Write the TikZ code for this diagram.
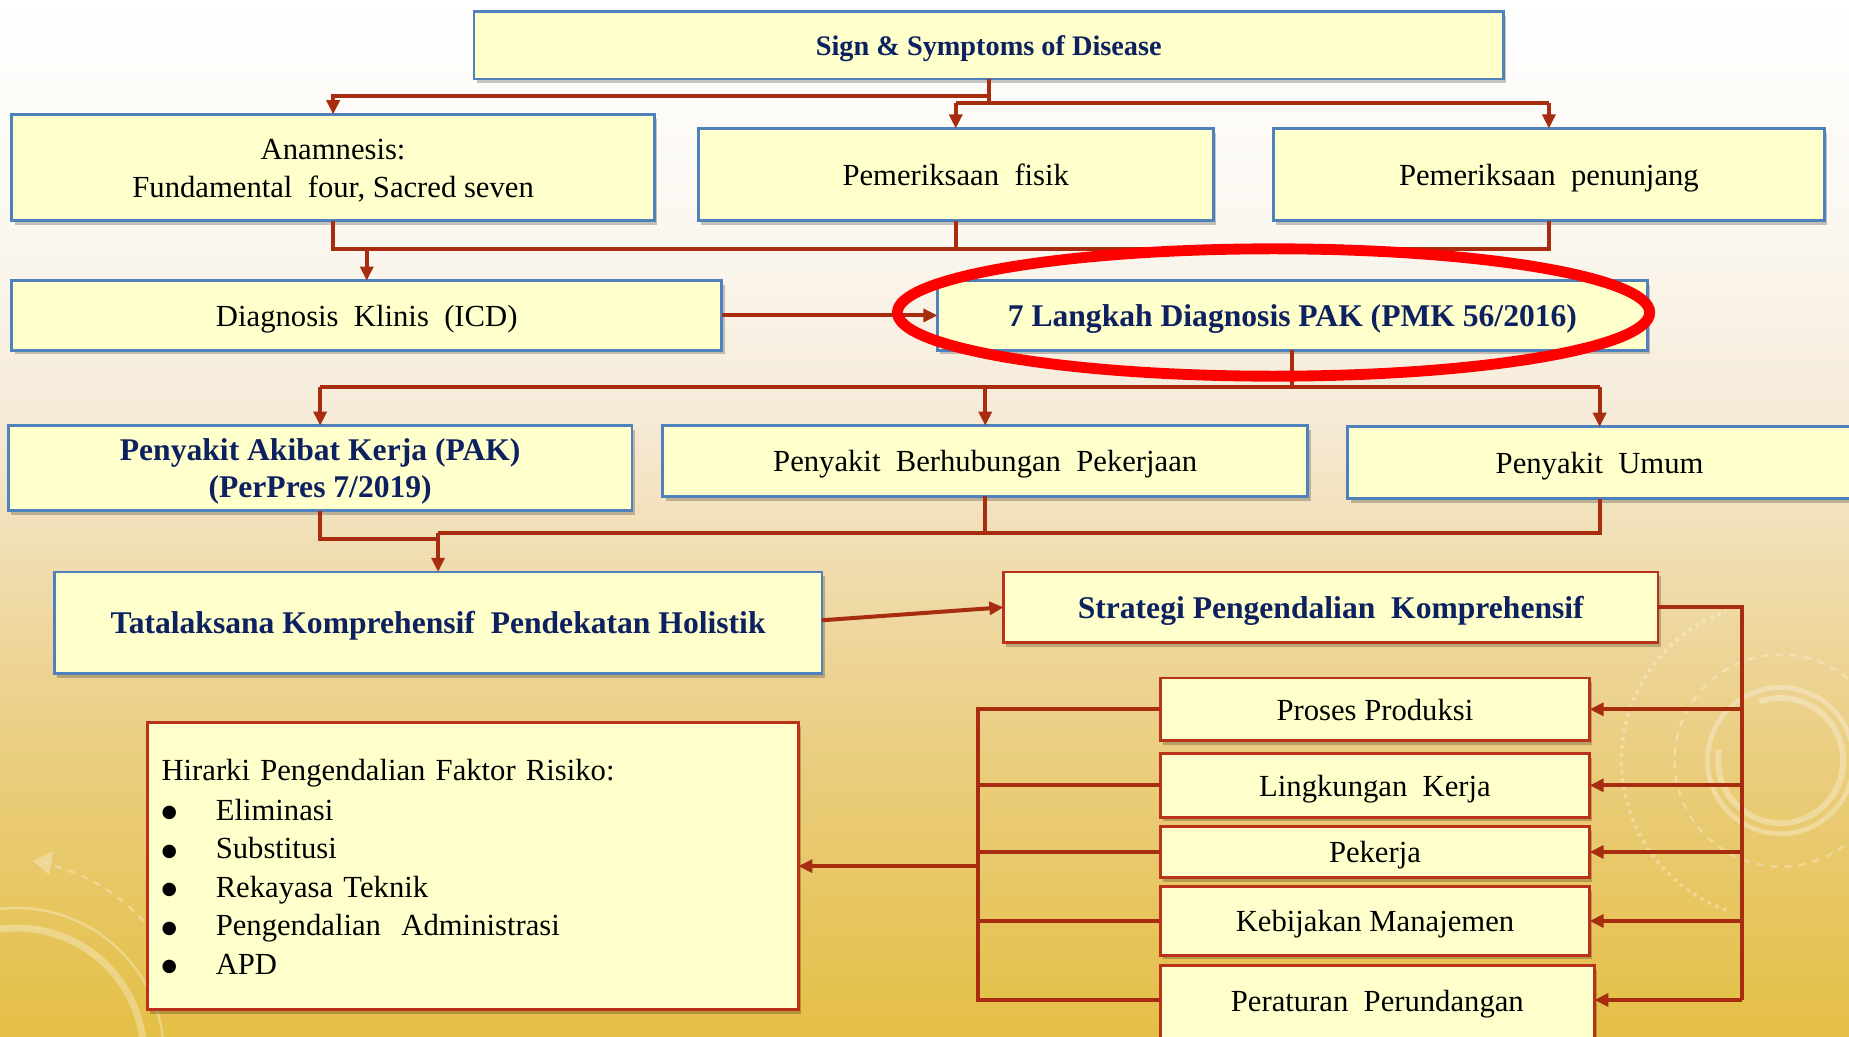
\documentclass[tikz,border=0pt]{standalone}
\usepackage{fontspec}
\setmainfont{Liberation Serif}
\newfontfamily\dejavu{DejaVu Sans}
\usetikzlibrary{arrows.meta,shadows}
\definecolor{boxfill}{HTML}{FFFFCC}
\definecolor{bblue}{HTML}{4F81BD}
\definecolor{bred}{RGB}{185,50,25}
\definecolor{lineRed}{RGB}{168,44,16}
\definecolor{navy}{RGB}{13,33,96}
\definecolor{bgA}{HTML}{FFFFFF}
\definecolor{bgB}{HTML}{FBF7F0}
\definecolor{bgC}{HTML}{F6EBD8}
\definecolor{bgD}{HTML}{F0DCAE}
\definecolor{bgE}{HTML}{EBCF85}
\definecolor{bgF}{HTML}{E4BF45}
\newcommand\bx[7]{\node[#6, minimum width={(#4-#2)*0.5pt}, minimum height={(#5-#3)*0.5pt}] (#1) at ({(#2+#4)/2},{(#3+#5)/2}) {\raisebox{-1.4pt}[\height][\depth]{\begin{tabular}{@{}c@{}}#7\end{tabular}}};}
\newcommand\dsp{\ \ }
\newcommand\bul{\makebox[23pt][l]{\raisebox{1.2pt}{\dejavu\fontsize{7.5}{7.5}\selectfont ●}}}
\begin{document}
\begin{tikzpicture}[x=0.5pt,y=-0.5pt,
  box/.style={draw=bblue, line width=1.2pt, fill=boxfill, inner sep=0pt, outer sep=0pt, align=center,
    font=\fontsize{13}{16}\selectfont,
    drop shadow={shadow xshift=1.2pt, shadow yshift=-1.8pt, fill=black, opacity=0.22}},
  rbox/.style={box, draw=bred},
  boldtxt/.style={font=\bfseries\fontsize{13.4}{16}\selectfont, text=navy},
  wire/.style={draw=lineRed, line width=1.7pt},
  arr/.style={wire, -{Triangle[length=6pt,width=5.5pt]}},
  deco/.style={draw=white, opacity=0.3}]
\useasboundingbox (0,0) rectangle (1568,879);
\begin{scope}
\clip (0,0) rectangle (1568,879);
% background
\shade[top color=bgA, bottom color=bgB] (0,-1) rectangle (1568,200);
\shade[top color=bgB, bottom color=bgC] (0,199) rectangle (1568,350);
\shade[top color=bgC, bottom color=bgD] (0,349) rectangle (1568,480);
\shade[top color=bgD, bottom color=bgE] (0,479) rectangle (1568,620);
\shade[top color=bgE, bottom color=bgF] (0,619) rectangle (1568,880);
% decorations
\draw[deco, line width=2pt] (1510,645) circle (62);
\draw[deco, line width=2.5pt] (1510,645) ++(-110:53) arc (-110:190:53);
\draw[deco, line width=1pt, dashed] (1510,645) circle (90);
\draw[deco, line width=1.5pt, dotted] (1510,645) ++(110:135) arc (110:250:135);
\draw[deco, line width=3pt] (14,895) circle (108);
\draw[deco, line width=1pt] (14,895) circle (125);
\draw[deco, line width=1pt, dashed] (130,790) .. controls (100,755) and (70,740) .. (40,733);
\fill[white, opacity=0.3] (28,730) -- (45,722) -- (42,742) -- cycle;

% boxes
\bx{sign}{402}{10}{1275}{67}{box, boldtxt, font=\bfseries\fontsize{12}{14}\selectfont}{Sign \& Symptoms of Disease}
\bx{anam}{10}{97}{555}{187}{box}{Anamnesis:\\Fundamental\dsp four, Sacred seven}
\bx{fisik}{592}{109}{1029}{187}{box}{Pemeriksaan\dsp fisik}
\bx{penunjang}{1080}{109}{1547}{187}{box}{Pemeriksaan\dsp penunjang}
\bx{diag}{10}{238}{612}{297}{box}{Diagnosis\dsp Klinis\dsp (ICD)}
\bx{lang}{795}{238}{1397}{297}{box, boldtxt}{7 Langkah Diagnosis PAK (PMK 56/2016)}
\bx{pak}{7}{361}{536}{433}{box, boldtxt}{Penyakit Akibat Kerja (PAK)\\(PerPres 7/2019)}
\bx{pbp}{562}{361}{1109}{421}{box}{Penyakit\dsp Berhubungan\dsp Pekerjaan}
\bx{pu}{1143}{362}{1570}{423}{box}{Penyakit\dsp Umum}
\bx{tatal}{46}{485}{697}{571}{box, boldtxt}{Tatalaksana Komprehensif\dsp Pendekatan Holistik}
\bx{strat}{851}{485}{1406}{545}{rbox, boldtxt}{Strategi Pengendalian\dsp Komprehensif}
\bx{proses}{984}{575}{1348}{628}{rbox}{Proses Produksi}
\bx{ling}{984}{639}{1348}{693}{rbox}{Lingkungan\dsp Kerja}
\bx{pekerja}{984}{701}{1348}{744}{rbox}{Pekerja}
\bx{kebij}{984}{752}{1348}{810}{rbox}{Kebijakan Manajemen}
\bx{perat}{984}{819}{1352}{890}{rbox}{\raisebox{2.8pt}[\height][\depth]{Peraturan\dsp Perundangan}}
\node[rbox, font=\fontsize{13}{16.3}\selectfont, align=left, text width=264pt, inner xsep=6pt, minimum height={243*0.5pt}] (hir) at (401,734.5)
 {\raisebox{-1.5pt}[\height][\depth]{\begin{tabular}{@{}l@{}}
  Hirarki Pengendalian Faktor Risiko:\\[0.7pt]
  \bul Eliminasi\\
  \bul Substitusi\\
  \bul Rekayasa Teknik\\
  \bul Pengendalian\dsp Administrasi\\
  \bul APD\end{tabular}}};

% rail coordinates
\coordinate (yA) at (0,81);
\coordinate (yB) at (0,87);
\coordinate (yC) at (0,211);
\coordinate (yD) at (0,328);
\coordinate (yE) at (0,457);
\coordinate (yF) at (0,452);
\coordinate (yP) at (0,848);
\coordinate (xR) at (1477,0);
\coordinate (xL) at (829,0);

% connectors
\draw[wire] (sign.south) -- (sign.south |- yB);
\draw[arr] (sign.south |- yA) -| (anam.north);
\draw[wire] (fisik.north |- yB) -- (penunjang.north |- yB);
\draw[arr] (fisik.north |- yB) -- (fisik.north);
\draw[arr] (penunjang.north |- yB) -- (penunjang.north);

\draw[wire] (anam.south) |- (penunjang.south |- yC) -- (penunjang.south);
\draw[wire] (fisik.south) -- (fisik.south |- yC);
\draw[arr] (diag.north |- yC) -- (diag.north);
\draw[arr] (diag.east) -- (lang.west);

\draw[wire] (lang.south) -- (lang.south |- yD);
\draw[wire] (pak.north |- yD) -- (pu.north |- yD);
\draw[arr] (pak.north |- yD) -- (pak.north);
\draw[arr] (pbp.north |- yD) -- (pbp.north);
\draw[arr] (pu.north |- yD) -- (pu.north);

\draw[wire] (pak.south) |- (tatal.north |- yE);
\draw[wire] (tatal.north |- yF) -| (pu.south);
\draw[wire] (pbp.south) -- (pbp.south |- yF);
\draw[arr] (tatal.north |- yF) -- (tatal.north);

\draw[arr] ([yshift=1pt]tatal.east) -- (strat.west);

\draw[wire] (strat.east) -| (xR |- yP);
\foreach \n in {proses,ling,pekerja,kebij}{\draw[arr] (xR |- \n.east) -- (\n.east);}
\draw[arr] (xR |- yP) -- (perat.east |- yP);

\draw[wire] (proses.west) -| (xL |- yP) -- (perat.west |- yP);
\foreach \n in {ling,pekerja,kebij}{\draw[wire] (\n.west) -- (xL |- \n.west);}
\draw[arr] (xL |- hir.east) -- (hir.east);

% highlight ellipse
\draw[red, line width=4.6pt] (1080,265) ellipse [x radius=319, y radius=54];
\end{scope}
\end{tikzpicture}
\end{document}
